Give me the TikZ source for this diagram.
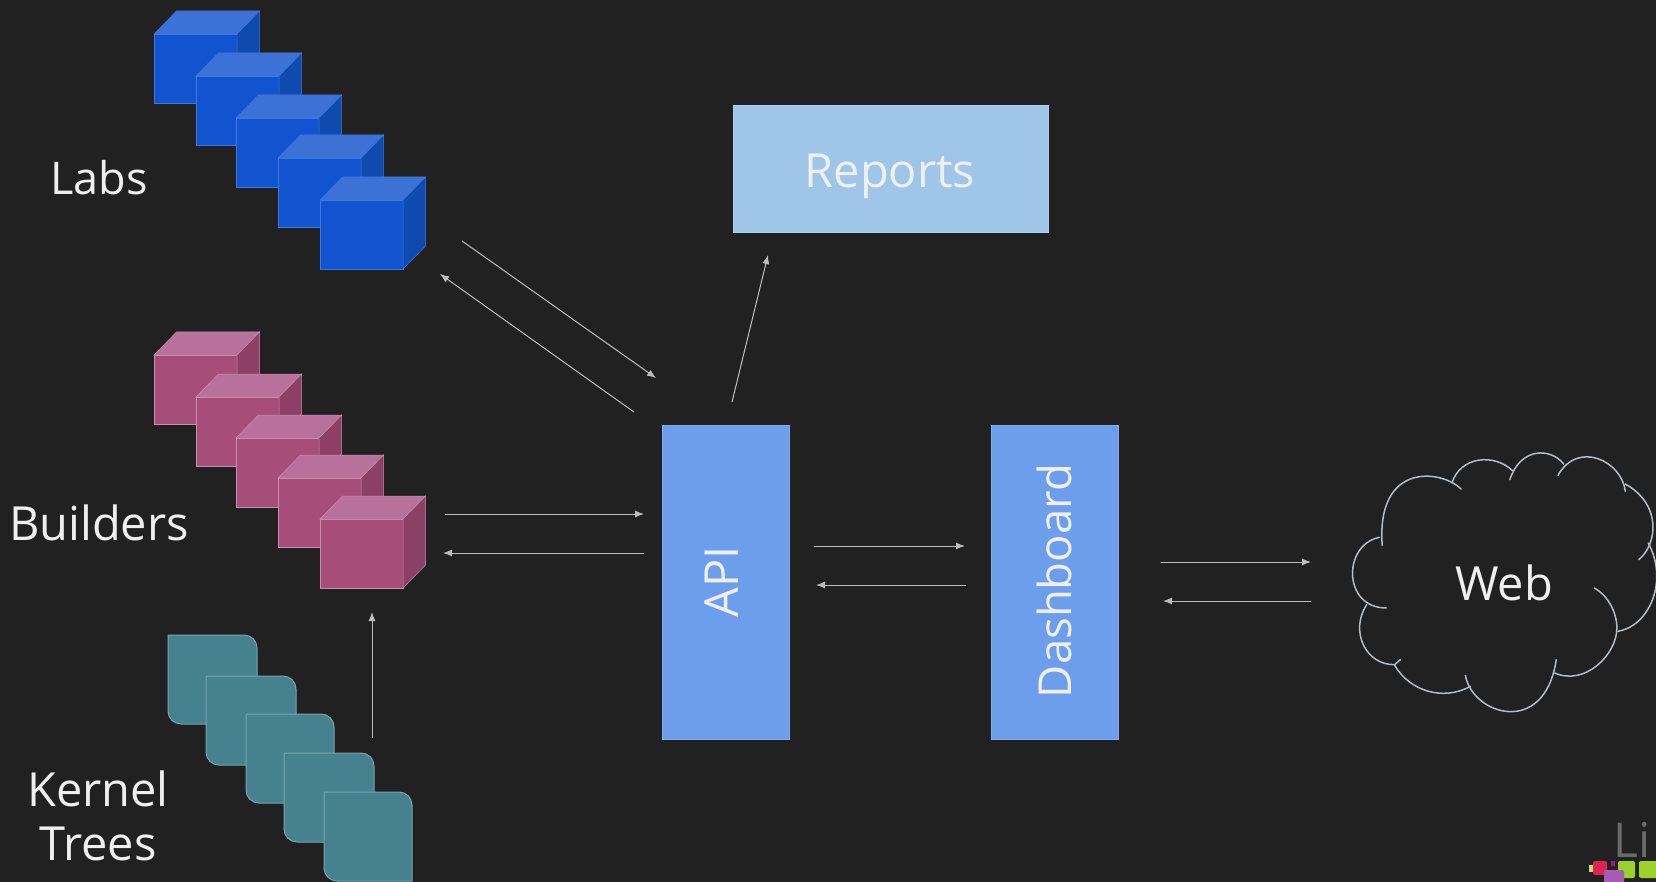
\documentclass[tikz,border=0pt]{standalone}
\usepackage{fontspec}
\setmainfont{Open Sans}
\usetikzlibrary{arrows.meta}
\definecolor{bgc}{HTML}{212121}
\definecolor{txt}{HTML}{EFEFEF}
\definecolor{arr}{HTML}{BDBDBD}
\definecolor{bluef}{HTML}{1254D0}
\definecolor{bluet}{HTML}{3C71D6}
\definecolor{blues}{HTML}{0F4BAF}
\definecolor{blueb}{HTML}{3C78E0}
\definecolor{pinkf}{HTML}{A64D79}
\definecolor{pinkt}{HTML}{B8719A}
\definecolor{pinks}{HTML}{8C4066}
\definecolor{pinkb}{HTML}{C98FAE}
\definecolor{tealf}{HTML}{45818E}
\definecolor{tealb}{HTML}{76A5AF}
\definecolor{boxb}{HTML}{6D9EEB}
\definecolor{repb}{HTML}{9FC5E8}
\definecolor{cloudc}{HTML}{B4BCC4}
\definecolor{logor}{HTML}{DC2454}
\definecolor{logog}{HTML}{9BD32C}
\definecolor{logop}{HTML}{A85BB5}
\definecolor{logom}{HTML}{A0109A}
\definecolor{logol}{HTML}{C4E07C}
\definecolor{logot}{HTML}{6A6A6A}
\tikzset{
  x=1pt,y=-1pt,
  flow/.style={draw=arr,line width=1pt,-{Latex[length=9pt,width=7pt]}},
  label/.style={text=txt,font=\fontsize{47}{47}\selectfont,inner sep=0pt,align=center},
  tall/.style={fill=boxb,draw=boxb!85!white,line width=0.8pt,minimum width=127pt,minimum height=314pt,inner sep=0pt,anchor=north west},
  cloudline/.style={draw=cloudc,line width=1.5pt,line cap=round},
}
\newcommand{\cubeat}[6]{%
  \filldraw[fill=#3,draw=#6,line width=.7pt] (#1,#2) rectangle ++(83,69);
  \filldraw[fill=#4,draw=#6,line width=.5pt] (#1,#2) -- ++(22.5,-23) -- ++(83,0) -- ++(-22.5,23) -- cycle;
  \filldraw[fill=#5,draw=#6,line width=.5pt] (#1+83,#2) -- ++(22.5,-23) -- ++(0,69) -- ++(-22.5,23) -- cycle;
}
\newcommand{\card}[3]{%
  \filldraw[fill=tealf,draw=tealb,line width=1pt]
    (#1,#2) -- ++(#3-13,0) arc[start angle=90,end angle=0,x radius=13,y radius=-13] -- ++(0,76)
    -- ++(13-#3,0) arc[start angle=270,end angle=180,x radius=13,y radius=-13] -- cycle;
}
\begin{document}
\begin{tikzpicture}
\useasboundingbox (0,0) rectangle (1656,882);
\fill[bgc] (0,0) rectangle (1656,882);
\clip (0,0) rectangle (1656,882);
% blue cubes
\foreach \cx/\cy in {154/34,196/76,236/118,278/158,320/200}
  {\cubeat{\cx}{\cy}{bluef}{bluet}{blues}{blueb}}
% pink cubes
\foreach \cx/\cy in {154/355,196/397,236/438,278/478,320/519}
  {\cubeat{\cx}{\cy}{pinkf}{pinkt}{pinks}{pinkb}}
% kernel tree cards
\foreach \cx/\cy/\cw in {168/635/89,206/676/90,246/714/88,284/753/90,324/792/88}
  {\card{\cx}{\cy}{\cw}}
% labels
\node[label,font=\fontsize{45}{45}\selectfont] (labs) at (99,178) {Labs};
\node[label] (builders) at (99,523) {Builders};
\node[label] (kernel) at (98,816) {Kernel\\[7pt]Trees};
% boxes
\node[fill=repb,draw=repb!85!white,line width=.8pt,minimum width=315pt,minimum height=127pt,inner sep=0pt,anchor=north west] (reports) at (733,105.5) {};
\node[label] (reportslabel) at (890,176) {Reports};
\node[tall] (api) at (662,424.5) {};
\node[label,rotate=90] (apilabel) at (722,582) {API};
\node[tall] (dash) at (991,424.5) {};
\node[label,rotate=90,font=\fontsize{45.5}{45.5}\selectfont] (dashlabel) at (1054,581) {Dashboard};
\node[label] (web) at (1504,583) {Web};
% connector ends
\coordinate (a1) at (462,241); \coordinate (a2) at (656,378);
\coordinate (b1) at (634,412); \coordinate (b2) at (440,274);
\coordinate (c1) at (732,402); \coordinate (c2) at (768,255);
\coordinate (d1) at (445,514); \coordinate (d2) at (644,514);
\coordinate (e1) at (644,553); \coordinate (e2) at (443,553);
\coordinate (f1) at (372,738); \coordinate (f2) at (372,612);
\coordinate (g1) at (814,546); \coordinate (g2) at (965,546);
\coordinate (h1) at (966,585); \coordinate (h2) at (816,585);
\coordinate (i1) at (1161,562); \coordinate (i2) at (1311,562);
\coordinate (j1) at (1311,601); \coordinate (j2) at (1163,601);
\foreach \s/\t in {a1/a2,b1/b2,c1/c2,d1/d2,e1/e2,f1/f2,g1/g2,h1/h2,i1/i2,j1/j2}
  \draw[flow] (\s) -- (\t);
% cloud
\begin{scope}[shift={(1329,428)},x=0.3367pt,y=-0.3333pt]
\draw[cloudline] (392,183) .. controls (335,125) and (140,100) .. (158,352);
\draw[cloudline] (150,328) .. controls (40,350) and (40,540) .. (170,540);
\draw[cloudline] (112,530) .. controls (60,610) and (110,712) .. (195,710) -- (212,695);
\draw[cloudline] (195,712) .. controls (240,790) and (340,820) .. (420,775);
\draw[cloudline] (405,742) .. controls (425,860) and (640,930) .. (675,695);
\draw[cloudline] (670,735) .. controls (760,775) and (855,680) .. (855,600) .. controls (855,550) and (825,500) .. (788,480);
\draw[cloudline] (858,610) .. controls (950,595) and (1010,460) .. (948,345);
\draw[cloudline] (920,395) .. controls (975,350) and (990,230) .. (880,168);
\draw[cloudline] (880,190) .. controls (870,100) and (740,35) .. (680,142);
\draw[cloudline] (697,108) .. controls (660,60) and (570,55) .. (537,155);
\draw[cloudline] (545,128) .. controls (490,75) and (390,85) .. (365,165);
\end{scope}
% logo
\node[text=logot,font=\fontsize{48}{48}\selectfont,inner sep=0pt,anchor=base west] (logo) at (1613,857) {Li};
\fill[logol] (1589,865) rectangle (1596,872);
\fill[logor,rounded corners=2pt] (1593,861) rectangle (1607,875);
\fill[logom] (1611,861) rectangle (1615,866);
\fill[logog,rounded corners=2pt] (1618,861) rectangle (1635,878);
\fill[logog,rounded corners=2pt] (1639,861) rectangle (1660,878);
\fill[logop,rounded corners=2pt] (1604,870) rectangle (1624,886);
\end{tikzpicture}
\end{document}
